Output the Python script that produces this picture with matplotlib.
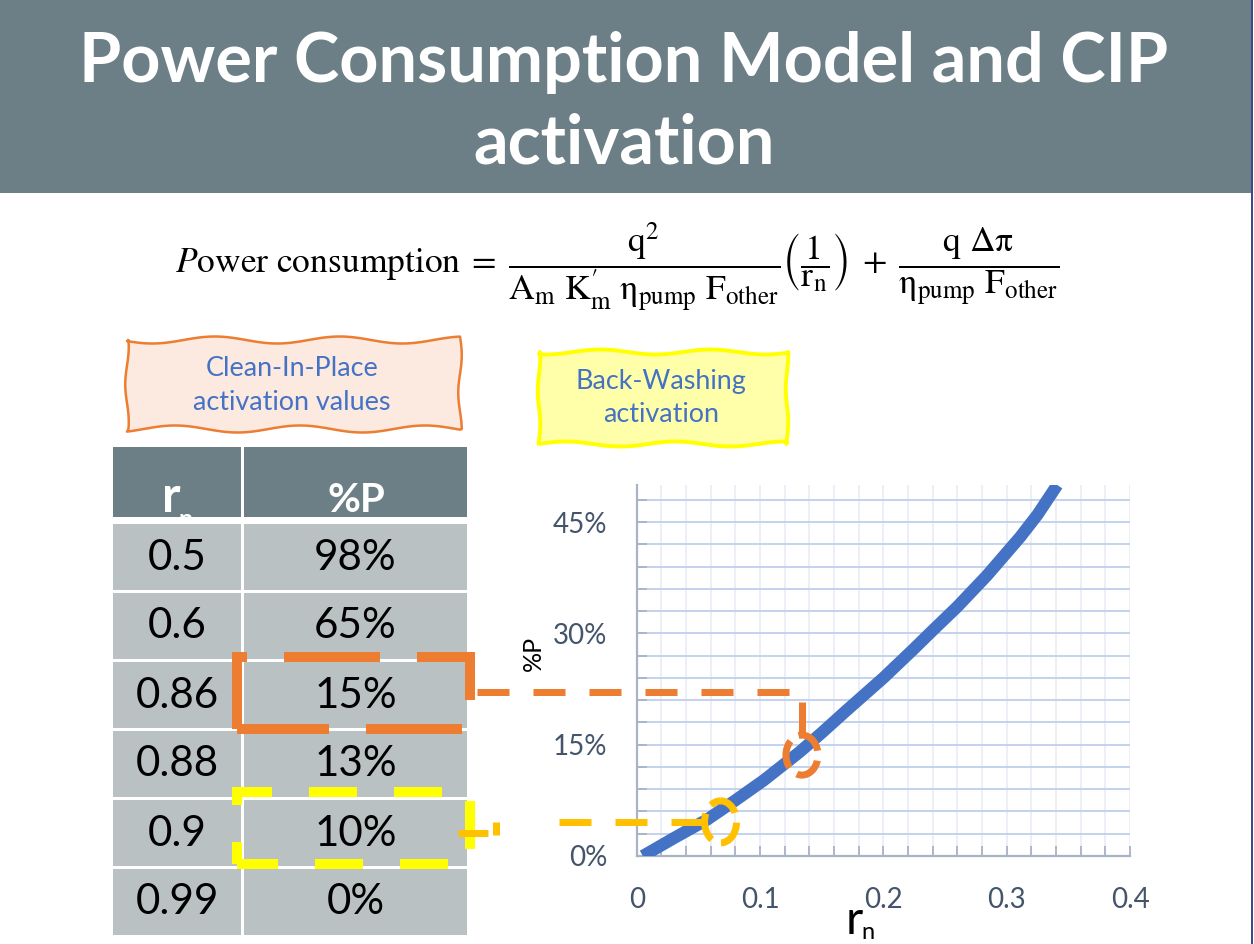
import numpy as np
import matplotlib
matplotlib.use("Agg")
import matplotlib.pyplot as plt
from matplotlib.patches import Rectangle, Ellipse, Polygon
from matplotlib.lines import Line2D
from matplotlib.ticker import FuncFormatter

plt.rcParams['lines.scale_dashes'] = False
plt.rcParams['mathtext.fontset'] = 'stix'
plt.rcParams['font.family'] = ['Lato', 'DejaVu Sans']

# ---------------- data ----------------
title_line1 = 'Power Consumption Model and CIP'
title_line2 = 'activation'
formula = (r'$P\mathrm{ower\ consumption}\;=\;'
           r'\dfrac{\mathrm{q}^{2}}{\mathrm{A}_{\mathrm{m}}\ \mathrm{K}^{\prime}_{\mathrm{m}}\ '
           r'\mathrm{\eta}_{\mathrm{pump}}\ \mathrm{F}_{\mathrm{other}}}'
           r'\left(\dfrac{1}{\mathrm{r}_{\mathrm{n}}}\right)\;+\;'
           r'\dfrac{\mathrm{q}\ \mathrm{\Delta\pi}}{\mathrm{\eta}_{\mathrm{pump}}\ \mathrm{F}_{\mathrm{other}}}$')
cip_label = ['Clean-In-Place', 'activation values']
bw_label = ['Back-Washing', 'activation']
table_header = ['r', 'n', '%P']
table_rn = ['0.5', '0.6', '0.86', '0.88', '0.9', '0.99']
table_pct = ['98%', '65%', '15%', '13%', '10%', '0%']

curve_rn = [0.005, 0.030, 0.057, 0.080, 0.103, 0.132, 0.150, 0.170, 0.200, 0.224,
            0.240, 0.260, 0.284, 0.311, 0.325, 0.341]
curve_pct = [0.0, 2.4, 4.9, 7.5, 10.2, 14.0, 16.6, 19.6, 24.0, 27.8,
             30.4, 33.6, 37.8, 43.0, 46.0, 50.0]

y_ticks = np.arange(0, 49, 3)
y_labels = {0: '0%', 15: '15%', 30: '30%', 45: '45%'}
x_ticks = np.round(np.arange(0, 0.401, 0.02), 2)
x_labels = {0.0: '0', 0.1: '0.1', 0.2: '0.2', 0.3: '0.3', 0.4: '0.4'}

cip_point = (0.134, 13.6)   # highlighted CIP point on the curve
bw_point = (0.068, 4.6)     # highlighted back-washing point on the curve

# colours
HEAD = '#6C7F86'
ROW = '#BAC1C2'
BLUE = '#4472C4'
ORANGE = '#ED7D31'
AMBER = '#FFC000'
YELLOW = '#FFFF00'

W, H = 1254, 944
fig = plt.figure(figsize=(W / 100, H / 100), dpi=100)
fig.patch.set_facecolor('white')
renderer = fig.canvas.get_renderer()


def PT(px):
    return px * 0.72


def fit(t, width):
    bb = t.get_window_extent(renderer)
    t.set_fontsize(t.get_fontsize() * width / bb.width)
    return t.get_fontsize()


# ---------------- chart ----------------
ax = fig.add_axes([636.7 / W, 1 - 856 / H, (1130 - 636.7) / W, (856 - 485) / H])
ax.set_xlim(0, 0.4)
ax.set_ylim(0, 50)
ax.set_xticks(x_ticks)
ax.set_yticks(y_ticks)
ax.xaxis.set_major_formatter(FuncFormatter(lambda v, p: x_labels.get(round(v, 2), '')))
ax.yaxis.set_major_formatter(FuncFormatter(lambda v, p: y_labels.get(int(round(v)), '')))
ax.grid(axis='x', color='#EBEEF5', lw=1.3)
ax.grid(axis='y', color='#C4D2EC', lw=1.4)
ax.set_axisbelow(True)
for s in ['top', 'right']:
    ax.spines[s].set_visible(False)
for s in ['left', 'bottom']:
    ax.spines[s].set_color('#A8B3C6')
    ax.spines[s].set_linewidth(1.6)
ax.tick_params(direction='in', length=7, width=1.3, color='#A8B3C6',
               labelcolor='#44546A', labelsize=20)
ax.tick_params(axis='y', pad=21)
ax.tick_params(axis='x', pad=22)
ax.plot(curve_rn, curve_pct, color=BLUE, lw=8.8, solid_capstyle='butt',
        solid_joinstyle='round', zorder=3)


def to_px(x, y):
    dx, dy = ax.transData.transform((x, y))
    return dx, H - dy


# ---------------- overlay (slide) ----------------
ov = fig.add_axes([0, 0, 1, 1], zorder=10)
ov.set_xlim(0, W)
ov.set_ylim(H, 0)
ov.axis('off')

# header band + right edge line
ov.add_patch(Rectangle((0, 0), 1251, 193, color=HEAD, lw=0))
ov.add_patch(Rectangle((1250.8, 0), 2.4, H, color='#3C4A8C', lw=0))

t1 = ov.text(624, 82, title_line1, color='white', fontweight='bold', fontsize=50,
             ha='center', va='baseline')
fs = fit(t1, 1092)
ov.text(624, 163, title_line2, color='white', fontweight='bold', fontsize=fs,
        ha='center', va='baseline')

# formula
tf = ov.text(617.5, 267, formula, fontsize=24, ha='center', va='center', color='black')
fit(tf, 885)


# wavy boxes
def wavy_box(x0, y0, x1, y1, amp, period, phase, fc, ec, lw):
    n = 160
    xs = np.linspace(x0, x1, n)
    ys = np.linspace(y0, y1, n)
    top = np.column_stack([xs, y0 + amp * np.sin(2 * np.pi * (xs - x0) / period + phase)])
    right = np.column_stack([x1 + 0.5 * amp * np.sin(2 * np.pi * (ys - y0) / (period * 0.6) + phase),
                             ys])
    bot = np.column_stack([xs[::-1],
                           y1 + amp * np.sin(2 * np.pi * (xs[::-1] - x0) / period + phase + 2.0)])
    left = np.column_stack([x0 + 0.5 * amp * np.sin(2 * np.pi * (ys[::-1] - y0) / (period * 0.6) + 1.0),
                            ys[::-1]])
    verts = np.vstack([top, right, bot, left])
    ov.add_patch(Polygon(verts, closed=True, fc=fc, ec=ec, lw=lw, joinstyle='round'))


wavy_box(127, 340, 460, 429, 3.5, 125, 0.3, '#FCE9E0', ORANGE, 1.8)
wavy_box(539, 352, 787, 444, 2.5, 110, 1.2, '#FFFFAA', YELLOW, 2.8)

tc = ov.text(292, 403, cip_label[1], color=BLUE, fontsize=17, ha='center', va='center')
fsb = fit(tc, 198)
ov.text(292, 368, cip_label[0], color=BLUE, fontsize=fsb, ha='center', va='center')
ov.text(661, 382, bw_label[0], color=BLUE, fontsize=fsb, ha='center', va='center')
ov.text(661, 415, bw_label[1], color=BLUE, fontsize=fsb, ha='center', va='center')

# table
c1x0, c1x1 = 113, 241
c2x0, c2x1 = 244, 467
hy0, hy1 = 447, 517
h1 = Rectangle((c1x0, hy0), c1x1 - c1x0, hy1 - hy0, color=HEAD, lw=0)
h2 = Rectangle((c2x0, hy0), c2x1 - c2x0, hy1 - hy0, color=HEAD, lw=0)
ov.add_patch(h1)
ov.add_patch(h2)
tr = ov.text(162, 512, table_header[0], color='white', fontweight='bold', fontsize=36,
             ha='left', va='baseline')
tn = ov.text(179, 508, table_header[1], color='white', fontweight='bold', fontsize=18,
             ha='left', va='top')
tn.set_clip_on(True)
tn.set_clip_path(h1)
tp = ov.text(356, 512, table_header[2], color='white', fontweight='bold', fontsize=34,
             ha='center', va='baseline')
fit(tp, 58)

cell_texts = []
for i, (rn, pc) in enumerate(zip(table_rn, table_pct)):
    top = 523.5 + 69 * i
    ov.add_patch(Rectangle((c1x0, top), c1x1 - c1x0, 66, color=ROW, lw=0))
    ov.add_patch(Rectangle((c2x0, top), c2x1 - c2x0, 66, color=ROW, lw=0))
    a = ov.text(177, top + 46, rn, color='black', fontsize=30, ha='center', va='baseline')
    b = ov.text(355.5, top + 46, pc, color='black', fontsize=30, ha='center', va='baseline')
    cell_texts += [a, b]
row_fs = fit(cell_texts[4], 83)   # '0.86'
for t in cell_texts:
    t.set_fontsize(row_fs)


# dashed highlight rectangles (start at bottom-left, going up, clockwise on screen)
def dashed_rect(x0, y0, x1, y1, color, lw_px, dash, gap, offset):
    xs = [x0, x0, x1, x1, x0]
    ys = [y1, y0, y0, y1, y1]
    ov.add_line(Line2D(xs, ys, color=color, lw=PT(lw_px),
                       linestyle=(PT(offset), (PT(dash), PT(gap))),
                       dash_capstyle='butt', dash_joinstyle='miter'))


dashed_rect(236.7, 656.7, 470, 728.7, ORANGE, 10, 96, 37, 14)
dashed_rect(236.7, 792, 470, 864, YELLOW, 10, 48, 37, 26)

# orange connector
ov.add_line(Line2D([477, 789], [691.7, 691.7], color=ORANGE, lw=PT(7),
                   linestyle=(0, (PT(32), PT(24))), dash_capstyle='butt'))
cx, cy = to_px(*cip_point)
ov.add_line(Line2D([cx, cx], [702, 733], color=ORANGE, lw=PT(7), solid_capstyle='butt'))
ov.add_patch(Ellipse((cx, cy), 32, 40, fill=False, ec=ORANGE, lw=PT(7),
                     linestyle=(PT(4), (PT(28), PT(10))), capstyle='butt'))

# amber connector
ov.add_line(Line2D([458, 488], [833, 833], color=AMBER, lw=PT(7), solid_capstyle='butt'))
ov.add_line(Line2D([495.5, 495.5], [822, 835], color=AMBER, lw=PT(7), solid_capstyle='butt'))
bx, by = to_px(*bw_point)
ov.add_line(Line2D([559, bx - 18], [by, by], color=AMBER, lw=PT(7),
                   linestyle=(0, (PT(32), PT(24))), dash_capstyle='butt'))
ov.add_patch(Ellipse((bx, by), 32, 42, fill=False, ec=AMBER, lw=PT(7),
                     linestyle=(PT(8), (PT(28), PT(10))), capstyle='butt'))

# axis titles
ov.text(533, 653, '%P', color='black', fontsize=18, rotation=90, ha='center', va='center')
ov.text(846, 934, 'r', color='black', fontsize=34, ha='left', va='baseline')
ov.text(861, 939, 'n', color='black', fontsize=17, ha='left', va='baseline')

fig.savefig('out.png', dpi=100, facecolor='white')
